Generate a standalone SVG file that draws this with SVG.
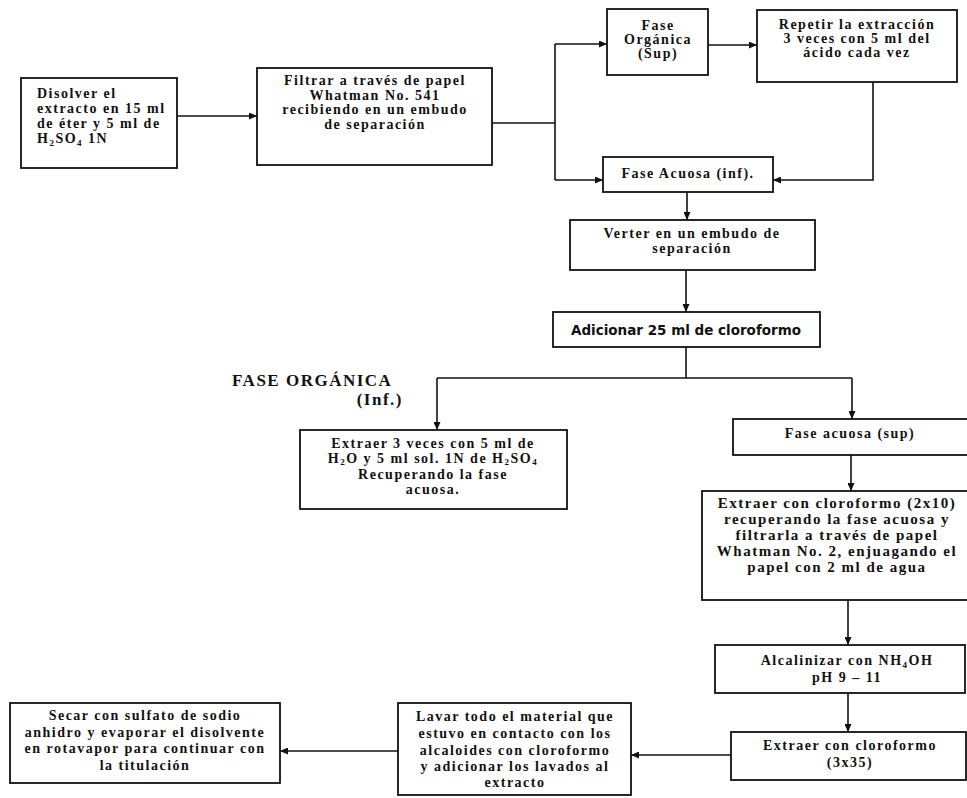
<svg xmlns="http://www.w3.org/2000/svg" width="967" height="798" viewBox="0 0 967 798">
<style>
.box{fill:#fff;stroke:#111;stroke-width:1.8}
.t{font-family:"Liberation Serif","Times New Roman",serif;font-weight:bold;font-size:14px;letter-spacing:1.5px;fill:#111}
.c{text-anchor:middle}
.big{font-size:15px}
.sans{font-family:"DejaVu Sans",Verdana,sans-serif;font-weight:bold;font-size:13.5px;letter-spacing:0;fill:#111}
.lbl{font-size:17px;letter-spacing:1.5px}
.ln{fill:none;stroke:#111;stroke-width:1.6}
.s{font-size:9px}
</style>
<defs>
<marker id="ah" markerWidth="8" markerHeight="7" refX="8" refY="3.5" orient="auto" markerUnits="userSpaceOnUse">
<path d="M0,0 L8,3.5 L0,7 z" fill="#111"/>
</marker>
</defs>
<rect width="967" height="798" fill="#fff"/>

<g id="connectors">
<line class="ln" x1="177" y1="116" x2="257" y2="116" marker-end="url(#ah)"/>
<polyline class="ln" points="492,123 555,123"/>
<line class="ln" x1="555" y1="44" x2="555" y2="180"/>
<line class="ln" x1="555" y1="44" x2="607" y2="44" marker-end="url(#ah)"/>
<line class="ln" x1="555" y1="180" x2="603" y2="180" marker-end="url(#ah)"/>
<line class="ln" x1="708" y1="45" x2="757" y2="45" marker-end="url(#ah)"/>
<polyline class="ln" points="873,82 873,180 773,180" marker-end="url(#ah)"/>
<line class="ln" x1="687" y1="192" x2="687" y2="220" marker-end="url(#ah)"/>
<line class="ln" x1="686" y1="270" x2="686" y2="312" marker-end="url(#ah)"/>
<line class="ln" x1="686" y1="347" x2="686" y2="378"/>
<line class="ln" x1="437" y1="378" x2="852" y2="378"/>
<line class="ln" x1="437" y1="378" x2="437" y2="430" marker-end="url(#ah)"/>
<line class="ln" x1="852" y1="378" x2="852" y2="419" marker-end="url(#ah)"/>
<line class="ln" x1="851" y1="455" x2="851" y2="491" marker-end="url(#ah)"/>
<line class="ln" x1="848" y1="600" x2="848" y2="645" marker-end="url(#ah)"/>
<line class="ln" x1="848" y1="693" x2="848" y2="732" marker-end="url(#ah)"/>
<line class="ln" x1="731" y1="755" x2="631" y2="755" marker-end="url(#ah)"/>
<line class="ln" x1="398" y1="751" x2="280" y2="751" marker-end="url(#ah)"/>
</g>

<g id="n-disolver">
<rect class="box" x="21" y="78" width="156" height="90"/>
<text class="t" x="37" y="98">Disolver el</text>
<text class="t" x="37" y="113">extracto en 15 ml</text>
<text class="t" x="37" y="128">de éter y 5 ml de</text>
<text class="t" x="37" y="143">H<tspan class="s" dy="2.5">2</tspan><tspan dy="-2.5">SO</tspan><tspan class="s" dy="2.5">4</tspan><tspan dy="-2.5"> 1N</tspan></text>
</g>

<g id="n-filtrar">
<rect class="box" x="257" y="68" width="235" height="97"/>
<text class="t c" x="375" y="85">Filtrar a través de papel</text>
<text class="t c" x="375" y="99.5">Whatman No. 541</text>
<text class="t c" x="375" y="114">recibiendo en un embudo</text>
<text class="t c" x="375" y="128.5">de separación</text>
</g>

<g id="n-fase-organica-sup">
<rect class="box" x="607" y="9" width="101" height="66"/>
<text class="t c" x="658" y="30">Fase</text>
<text class="t c" x="658" y="44">Orgánica</text>
<text class="t c" x="658" y="58">(Sup)</text>
</g>

<g id="n-repetir">
<rect class="box" x="757" y="10" width="200" height="72"/>
<text class="t c" x="857" y="29">Repetir la extracción</text>
<text class="t c" x="857" y="43">3 veces con 5 ml del</text>
<text class="t c" x="857" y="57">ácido cada vez</text>
</g>

<g id="n-fase-acuosa-inf">
<rect class="box" x="603" y="157" width="170" height="35"/>
<text class="t c" x="688" y="178">Fase Acuosa (inf).</text>
</g>

<g id="n-verter">
<rect class="box" x="570" y="220" width="245" height="50"/>
<text class="t c" x="692" y="238">Verter en un embudo de</text>
<text class="t c" x="692" y="253">separación</text>
</g>

<g id="n-adicionar">
<rect class="box" x="553" y="312" width="267" height="35"/>
<text class="sans c" x="686" y="335">Adicionar 25 ml de cloroformo</text>
</g>

<g id="lbl-fase-organica-inf">
<text class="t lbl" x="232" y="386">FASE ORGÁNICA</text>
<text class="t lbl" x="403" y="405" text-anchor="end">(Inf.)</text>
</g>

<g id="n-extraer-3-veces">
<rect class="box" x="300" y="430" width="267" height="79"/>
<text class="t c" x="433" y="448">Extraer 3 veces con 5 ml de</text>
<text class="t c" x="433" y="463">H<tspan class="s" dy="2">2</tspan><tspan dy="-2">O y 5 ml sol. 1N de H</tspan><tspan class="s" dy="2">2</tspan><tspan dy="-2">SO</tspan><tspan class="s" dy="2">4</tspan></text>
<text class="t c" x="433" y="479">Recuperando la fase</text>
<text class="t c" x="433" y="494">acuosa.</text>
</g>

<g id="n-fase-acuosa-sup">
<rect class="box" x="733" y="419" width="236" height="36"/>
<text class="t c" x="850" y="438">Fase acuosa (sup)</text>
</g>

<g id="n-extraer-2x10">
<rect class="box" x="702" y="491" width="267" height="109"/>
<text class="t c big" x="837" y="508">Extraer con cloroformo (2x10)</text>
<text class="t c big" x="837" y="524">recuperando la fase acuosa y</text>
<text class="t c big" x="837" y="540">filtrarla a través de papel</text>
<text class="t c big" x="837" y="556">Whatman No. 2, enjuagando el</text>
<text class="t c big" x="837" y="572">papel con 2 ml de agua</text>
</g>

<g id="n-alcalinizar">
<rect class="box" x="715" y="645" width="250" height="48"/>
<text class="t c" x="847" y="665">Alcalinizar con NH<tspan class="s" dy="2.5">4</tspan><tspan dy="-2.5">OH</tspan></text>
<text class="t c" x="847" y="682">pH  9 – 11</text>
</g>

<g id="n-extraer-3x35">
<rect class="box" x="731" y="732" width="235" height="48"/>
<text class="t c" x="850" y="750">Extraer con cloroformo</text>
<text class="t c" x="850" y="767">(3x35)</text>
</g>

<g id="n-lavar">
<rect class="box" x="398" y="703" width="233" height="92"/>
<text class="t c" x="515" y="721">Lavar todo el material que</text>
<text class="t c" x="515" y="738">estuvo en contacto con los</text>
<text class="t c" x="515" y="755">alcaloides con cloroformo</text>
<text class="t c" x="515" y="771">y adicionar los lavados al</text>
<text class="t c" x="515" y="787">extracto</text>
</g>

<g id="n-secar">
<rect class="box" x="10" y="703" width="270" height="80"/>
<text class="t c" x="145" y="720">Secar con sulfato de sodio</text>
<text class="t c" x="145" y="737">anhidro y evaporar el disolvente</text>
<text class="t c" x="145" y="753">en rotavapor para continuar con</text>
<text class="t c" x="145" y="770">la titulación</text>
</g>
</svg>
